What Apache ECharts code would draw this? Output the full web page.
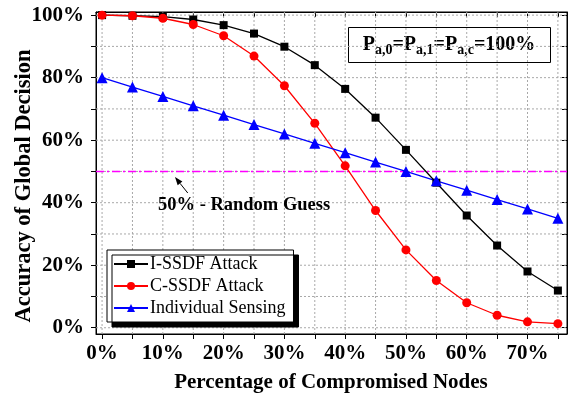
<!DOCTYPE html>
<html><head><meta charset="utf-8">
<script src="https://cdn.jsdelivr.net/npm/echarts@6/dist/echarts.min.js"></script>
<style>html,body{margin:0;padding:0;background:#fff}#c{width:571px;height:397px}</style>
</head><body><div id="c"></div>
<script>
const xValues = [0,5,10,15,20,25,30,35,40,45,50,55,60,65,70,75];
const iSSDF = [100,99.8,99.5,98.6,96.8,94.1,89.9,84.0,76.4,67.2,56.9,46.4,35.9,26.3,18.0,11.9];
const cSSDF = [100,99.8,99.0,97.0,93.4,86.9,77.4,65.4,51.8,37.5,24.9,15.1,8.0,4.0,1.9,1.3];
const indiv = [80,77,74,71,68,65,62,59,56,53,50,47,44,41,38,35];
const seriesNames = ['I-SSDF Attack','C-SSDF Attack','Individual Sensing'];
const xTickLabels = [0,10,20,30,40,50,60,70];
const xTicks = [0,5,10,15,20,25,30,35,40,45,50,55,60,65,70,75];
const yTickLabels = [0,20,40,60,80,100];
const yTicks = [0,10,20,30,40,50,60,70,80,90,100];
const xRange = [-1,76.5];
const yRange = [-2,101];
const randomGuess = 50;
const arrowFrom = [14.1,43.1];
const arrowTo = [12.0,48.2];

const F = '"Liberation Serif", "Times New Roman", serif';
const chart = echarts.init(document.getElementById('c'));
const pairs = a => xValues.map((x,i)=>[x,a[i]]);
const base = {type:'line', symbolKeepAspect:true, lineStyle:{width:1.3}, animation:false, z:3};
const axLine = {show:true, onZero:false, lineStyle:{color:'#000',width:1}};
const helper = (data, style, z) => ({type:'line', data, symbol:'none', silent:true, z, animation:false,
  color:style.color, lineStyle:style, itemStyle:{color:style.color}, emphasis:{disabled:true}, tooltip:{show:false}});
const gridStyle = {color:'#a8a8a8', type:[2,2], width:1};
const gridSeries = xTicks.map(v=>helper([[v,yRange[0]],[v,yRange[1]]], gridStyle, 1))
  .concat(yTicks.map(v=>helper([[xRange[0],v],[xRange[1],v]], gridStyle, 1)));
chart.setOption({
  animation:false,
  grid:{left:96,right:4,top:12,bottom:63,show:true,borderColor:'#000',borderWidth:1,outerBoundsMode:'none',containLabel:false},
  xAxis:[{
    type:'value', min:xRange[0], max:xRange[1],
    axisLine:axLine,
    axisTick:{customValues:xTicks,length:5,lineStyle:{color:'#000'}},
    axisLabel:{customValues:xTickLabels,formatter:'{value}%',fontFamily:F,fontWeight:'bold',fontSize:21,color:'#000',margin:9},
    splitLine:{show:false}
  },{
    type:'value', min:xRange[0], max:xRange[1], position:'top',
    axisLine:axLine,
    axisTick:{customValues:xTicks,inside:true,length:5,lineStyle:{color:'#000'}},
    axisLabel:{show:false}, splitLine:{show:false}
  }],
  yAxis:[{
    type:'value', min:yRange[0], max:yRange[1],
    axisLine:axLine,
    axisTick:{show:true,customValues:yTicks,length:5,lineStyle:{color:'#000'}},
    axisLabel:{customValues:yTickLabels,formatter:'{value}%',fontFamily:F,fontWeight:'bold',fontSize:21,color:'#000',margin:12},
    splitLine:{show:false}
  },{
    type:'value', min:yRange[0], max:yRange[1], position:'right',
    axisLine:axLine,
    axisTick:{show:true,customValues:yTicks,inside:true,length:5,lineStyle:{color:'#000'}},
    axisLabel:{show:false}, splitLine:{show:false}
  }],
  legend:{
    data:seriesNames, orient:'vertical', left:107, top:250, width:189,
    itemWidth:34, itemHeight:10, itemGap:4, padding:[5,8,5,6],
    backgroundColor:'#fff', borderColor:'#000', borderWidth:1,
    shadowColor:'#000', shadowBlur:0, shadowOffsetX:5, shadowOffsetY:5,
    textStyle:{fontFamily:F,fontSize:18,color:'#000',padding:[0,0,0,-3]}
  },
  series: gridSeries.concat([
    helper([[xRange[0],randomGuess],[xRange[1],randomGuess]], {color:'#ff00ff', width:1.5, type:[8,3,2,3]}, 2),
    Object.assign({}, base, {name:seriesNames[0], data:pairs(iSSDF), color:'#000', symbol:'rect', symbolSize:8}),
    Object.assign({}, base, {name:seriesNames[1], data:pairs(cSSDF), color:'#ff0000', symbol:'circle', symbolSize:9}),
    Object.assign({}, base, {name:seriesNames[2], data:pairs(indiv), color:'#0000ff', symbol:'triangle', symbolSize:11})
  ])
});
const px = v => chart.convertToPixel({gridIndex:0}, v);
const p0 = px(arrowFrom), p1 = px(arrowTo);
const ang = Math.atan2(p1[1]-p0[1], p1[0]-p0[0]);
const hl = 8, hw = 3;
const bx = p1[0]-hl*Math.cos(ang), by = p1[1]-hl*Math.sin(ang);
const nx = -Math.sin(ang)*hw, ny = Math.cos(ang)*hw;
chart.setOption({graphic: [
  {type:'text', x:24, y:186, rotation:Math.PI/2, style:{text:'Accuracy of Global Decision', font:'bold 22.5px '+F, fill:'#000', align:'center', verticalAlign:'middle'}},
  {type:'text', x:331, y:383, style:{text:'Percentage of Compromised Nodes', font:'bold 21px '+F, fill:'#000', align:'center', verticalAlign:'middle'}},
  {type:'text', left:158, top:196, z:5, style:{text:'50% - Random Guess', font:'bold 18.5px '+F, fill:'#000'}},
  {type:'line', z:5, shape:{x1:p0[0],y1:p0[1],x2:bx,y2:by}, style:{stroke:'#000',lineWidth:1}},
  {type:'polygon', z:5, shape:{points:[[p1[0],p1[1]],[bx+nx,by+ny],[bx-nx,by-ny]]}, style:{fill:'#000'}},
  {type:'group', left:348, top:27, z:5, children:[
    {type:'rect', shape:{x:0.5,y:0.5,width:202,height:35}, style:{fill:'#fff',stroke:'#000',lineWidth:1}},
    {type:'text', x:101, y:18, style:{
      text:'{p|P}{s|a,0}{p|=P}{s|a,1}{p|=P}{s|a,c}{p|=100%}',
      align:'center', verticalAlign:'middle',
      rich:{p:{font:'bold 20px '+F, fill:'#000'}, s:{font:'bold 14px '+F, fill:'#000', padding:[10,0,0,0]}}
    }}
  ]}
]});
</script></body></html>
